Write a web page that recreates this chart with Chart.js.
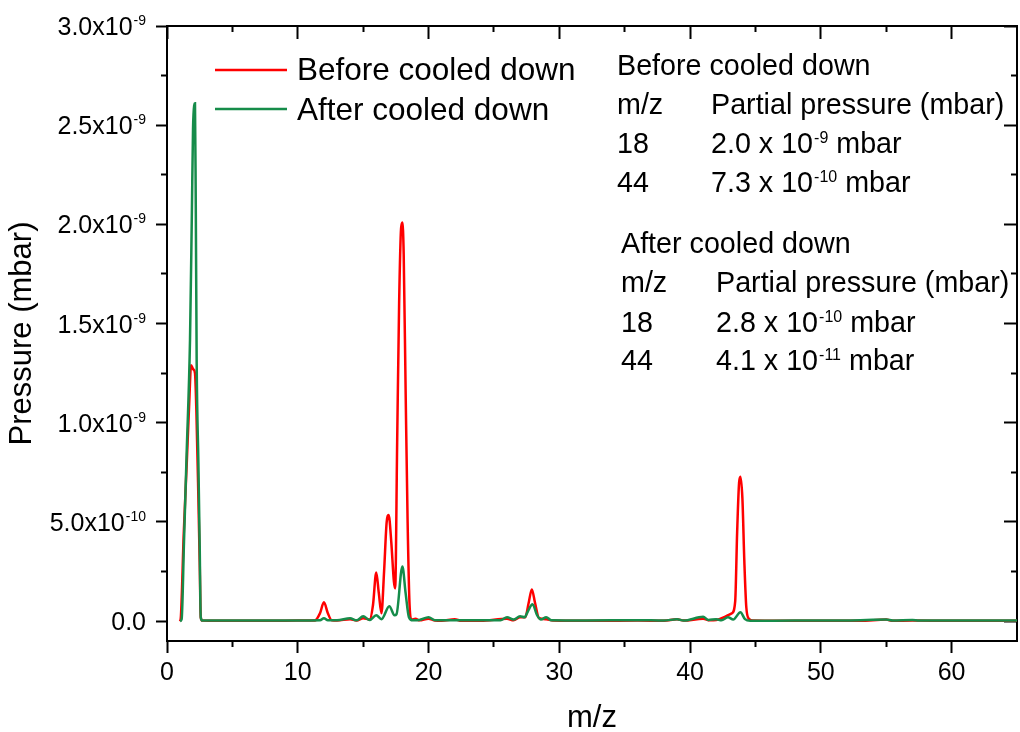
<!DOCTYPE html>
<html>
<head>
<meta charset="utf-8">
<script src="https://cdn.jsdelivr.net/npm/chart.js@4.4.0/dist/chart.umd.min.js"></script>
<style>
html,body{margin:0;padding:0;background:#fff;}
#wrap{width:1020px;height:732px;position:relative;}
</style>
</head>
<body>
<div id="wrap"><canvas id="c" width="1020" height="732"></canvas></div>
<script>
// ---- data (pressure in units of 1e-9 mbar) ----
const mzBefore = [1.0,1.06,1.28,1.5,1.7,1.84,2.0,2.14,2.25,2.4,2.5,2.58,2.7,
  4,6,8,10,11.3,11.7,12.0,12.3,12.6,13,14,14.5,15,15.5,15.75,16.0,16.2,16.4,16.6,16.8,16.95,17.15,17.35,17.45,
  17.6,17.75,17.9,18.0,18.1,18.25,18.4,18.55,18.7,19,19.3,20,20.5,21,22,22.5,24,26,26.5,27,27.4,27.65,27.9,28.15,28.45,
  29,29.5,31,33,36,38,39,39.5,41,41.5,42,42.6,42.9,43.2,43.45,43.6,43.75,43.85,44.0,44.15,44.3,44.5,44.8,
  47,50,53,55,55.5,57,60,63,65];
const pBefore = [0.0,0.02,0.44,0.78,1.1,1.29,1.27,1.25,1.05,0.62,0.3,0.02,0.003,
  0.002,0.002,0.002,0.003,0.003,0.04,0.095,0.04,0.004,0.003,0.01,0.003,0.015,0.008,0.08,0.245,0.14,0.04,0.25,0.5,0.535,0.4,0.2,0.165,
  0.9,1.6,1.98,2.01,1.85,1.15,0.5,0.08,0.008,0.012,0.004,0.012,0.003,0.002,0.01,0.002,0.002,0.012,0.004,0.02,0.02,0.09,0.16,0.09,0.015,
  0.01,0.003,0.002,0.002,0.003,0.002,0.01,0.003,0.012,0.004,0.006,0.02,0.03,0.04,0.1,0.45,0.7,0.728,0.62,0.3,0.07,0.012,0.003,
  0.002,0.002,0.002,0.008,0.002,0.003,0.002,0.002,0.002];
const mzAfter = [1.0,1.12,1.3,1.5,1.76,1.9,1.99,2.08,2.14,2.2,2.27,2.4,2.5,2.58,2.7,
  4,7,10,11.7,12,12.3,13,14,14.5,15,15.5,16,16.4,17,17.4,17.55,18,18.25,18.5,18.8,19.3,20,20.5,22,25.5,26,26.5,27,27.35,27.6,27.95,28.3,28.6,
  29,29.4,32,36,38,39,39.5,41,41.4,42,42.4,42.9,43.3,43.85,44.2,44.6,48,52,55,55.5,57,57.5,61,65];
const pAfter = [0.0,0.01,0.4,0.84,1.42,2.05,2.48,2.6,2.61,2.1,1.3,0.8,0.38,0.02,0.003,
  0.003,0.003,0.003,0.004,0.015,0.004,0.004,0.015,0.004,0.025,0.006,0.03,0.01,0.075,0.03,0.035,0.275,0.14,0.02,0.004,0.006,0.02,0.004,0.004,0.004,0.02,0.008,0.025,0.02,0.05,0.085,0.03,0.008,
  0.02,0.004,0.003,0.005,0.003,0.01,0.003,0.022,0.006,0.01,0.004,0.02,0.008,0.045,0.01,0.002,0.003,0.003,0.008,0.003,0.006,0.003,0.003,0.003];

const seriesLabels = ['Before cooled down', 'After cooled down'];
const seriesColors = ['#ff0000', '#168c4a'];

// ---- ticks ----
const xMajorTicks = [0, 10, 20, 30, 40, 50, 60];
const xTickLabels = ['0', '10', '20', '30', '40', '50', '60'];
const xMinorTicks = [5, 15, 25, 35, 45, 55];
const yMajorTicks = [0, 0.5, 1.0, 1.5, 2.0, 2.5, 3.0];
const yTickMantissa = ['0.0', '5.0x10', '1.0x10', '1.5x10', '2.0x10', '2.5x10', '3.0x10'];
const yTickExponent = ['', '-10', '-9', '-9', '-9', '-9', '-9'];
const yMinorTicks = [0.25, 0.75, 1.25, 1.75, 2.25, 2.75];

// ---- annotation table ----
const tableTitles = ['Before cooled down', 'After cooled down'];
const tableHeader = ['m/z', 'Partial pressure (mbar)'];
const tableMz = [['18', '44'], ['18', '44']];
const tableMantissa = [['2.0', '7.3'], ['2.8', '4.1']];
const tableExponent = [['-9', '-10'], ['-10', '-11']];

const FONT = "'Liberation Sans', Arial, Helvetica, sans-serif";

function toPoints(xs, ys) { return xs.map((x, i) => ({x: x, y: ys[i]})); }
function setTicks(list) { return (scale) => { scale.ticks = list.map(v => ({value: v})); }; }

const textPlugin = {
  id: 'texts',
  afterDraw(chart) {
    const ctx = chart.ctx;
    ctx.save();
    ctx.fillStyle = '#000';
    ctx.textBaseline = 'alphabetic';
    ctx.textAlign = 'left';

    // y tick labels (mantissa + superscript exponent), placed by the y scale
    const ys = chart.scales.y;
    yMajorTicks.forEach((v, i) => {
      const py = ys.getPixelForValue(v);
      const base = py + 9;
      ctx.font = '25px ' + FONT;
      const wm = ctx.measureText(yTickMantissa[i]).width;
      ctx.font = '14px ' + FONT;
      const we = yTickExponent[i] ? ctx.measureText(yTickExponent[i]).width + 1 : 0;
      const right = 146;
      const x0 = right - we - wm;
      ctx.font = '25px ' + FONT;
      ctx.fillText(yTickMantissa[i], x0, base);
      if (yTickExponent[i]) {
        ctx.font = '14px ' + FONT;
        ctx.fillText(yTickExponent[i], x0 + wm + 1, base - 10);
      }
    });

    // legend
    const legY = [70, 109];
    const legTextY = [80, 120];
    chart.data.datasets.forEach((ds, i) => {
      ctx.strokeStyle = ds.borderColor;
      ctx.lineWidth = 2.5;
      ctx.beginPath();
      ctx.moveTo(215, legY[i]);
      ctx.lineTo(287, legY[i]);
      ctx.stroke();
      ctx.font = '31.5px ' + FONT;
      ctx.fillText(ds.label, 297, legTextY[i]);
    });

    // tables
    const size = 28.7;
    const blocks = [
      {x0: 617, x1: 711, ys: [75, 114, 153, 192]},
      {x0: 621, x1: 716, ys: [253, 292, 332, 370]}
    ];
    blocks.forEach((b, k) => {
      ctx.font = size + 'px ' + FONT;
      ctx.fillText(tableTitles[k], b.x0, b.ys[0]);
      ctx.fillText(tableHeader[0], b.x0, b.ys[1]);
      ctx.fillText(tableHeader[1], b.x1, b.ys[1]);
      for (let r = 0; r < 2; r++) {
        const y = b.ys[2 + r];
        ctx.font = size + 'px ' + FONT;
        ctx.fillText(tableMz[k][r], b.x0, y);
        let x = b.x1;
        const t1 = tableMantissa[k][r] + ' x 10';
        ctx.fillText(t1, x, y);
        x += ctx.measureText(t1).width;
        ctx.font = '16px ' + FONT;
        ctx.fillText(tableExponent[k][r], x + 1, y - 10);
        x += ctx.measureText(tableExponent[k][r]).width + 1;
        ctx.font = size + 'px ' + FONT;
        ctx.fillText(' mbar', x, y);
      }
    });
    ctx.restore();
  }
};

const tickGrid = (len) => ({drawOnChartArea: false, drawTicks: true, tickLength: len, tickWidth: 2, tickColor: '#000'});

new Chart(document.getElementById('c'), {
  type: 'line',
  data: {
    datasets: [
      {label: seriesLabels[0], data: toPoints(mzBefore, pBefore), borderColor: seriesColors[0], backgroundColor: seriesColors[0],
       borderWidth: 2.5, pointRadius: 0, cubicInterpolationMode: 'monotone', fill: false, order: 1},
      {label: seriesLabels[1], data: toPoints(mzAfter, pAfter), borderColor: seriesColors[1], backgroundColor: seriesColors[1],
       borderWidth: 2.5, pointRadius: 0, cubicInterpolationMode: 'monotone', fill: false, order: 0}
    ]
  },
  options: {
    responsive: false,
    animation: false,
    devicePixelRatio: 1,
    layout: {padding: {left: 0, right: 3, top: 26, bottom: 0}},
    plugins: {legend: {display: false}, tooltip: {enabled: false}},
    scales: {
      x: {
        type: 'linear', position: 'bottom', min: 0, max: 65,
        afterBuildTicks: setTicks(xMajorTicks),
        afterFit: (s) => { s.height = 91; },
        ticks: {callback: (v) => xTickLabels[xMajorTicks.indexOf(v)], font: {family: FONT, size: 25}, color: '#000', padding: 5, maxRotation: 0},
        grid: tickGrid(12),
        border: {display: true, color: '#000', width: 2},
        title: {display: true, text: 'm/z', font: {family: FONT, size: 31, lineHeight: 1}, color: '#000', padding: {top: 0, bottom: -2}}
      },
      y: {
        type: 'linear', position: 'left', min: -0.1, max: 3.0,
        afterBuildTicks: setTicks(yMajorTicks),
        afterFit: (s) => { s.width = 167; },
        ticks: {display: false},
        grid: tickGrid(11),
        border: {display: true, color: '#000', width: 2},
        title: {display: true, text: 'Pressure (mbar)', font: {family: FONT, size: 31, lineHeight: 1}, color: '#000', padding: {top: 7, bottom: 0}}
      },
      xMinor: {
        type: 'linear', position: {y: -0.1}, min: 0, max: 65,
        afterBuildTicks: setTicks(xMinorTicks),
        ticks: {display: false}, grid: tickGrid(6), border: {display: false}
      },
      xTop: {
        type: 'linear', position: {y: 3.0}, min: 0, max: 65,
        afterBuildTicks: setTicks(xMajorTicks),
        ticks: {display: false}, grid: tickGrid(12), border: {display: true, color: '#000', width: 2}
      },
      xTopMinor: {
        type: 'linear', position: {y: 3.0}, min: 0, max: 65,
        afterBuildTicks: setTicks(xMinorTicks),
        ticks: {display: false}, grid: tickGrid(6), border: {display: false}
      },
      yMinor: {
        type: 'linear', position: {x: 0}, min: -0.1, max: 3.0,
        afterBuildTicks: setTicks(yMinorTicks),
        ticks: {display: false}, grid: tickGrid(6), border: {display: false}
      },
      yRight: {
        type: 'linear', position: {x: 65}, min: -0.1, max: 3.0,
        afterBuildTicks: setTicks(yMajorTicks),
        ticks: {display: false}, grid: tickGrid(12), border: {display: true, color: '#000', width: 2}
      },
      yRightMinor: {
        type: 'linear', position: {x: 65}, min: -0.1, max: 3.0,
        afterBuildTicks: setTicks(yMinorTicks),
        ticks: {display: false}, grid: tickGrid(6), border: {display: false}
      }
    }
  },
  plugins: [textPlugin]
});
</script>
</body>
</html>
